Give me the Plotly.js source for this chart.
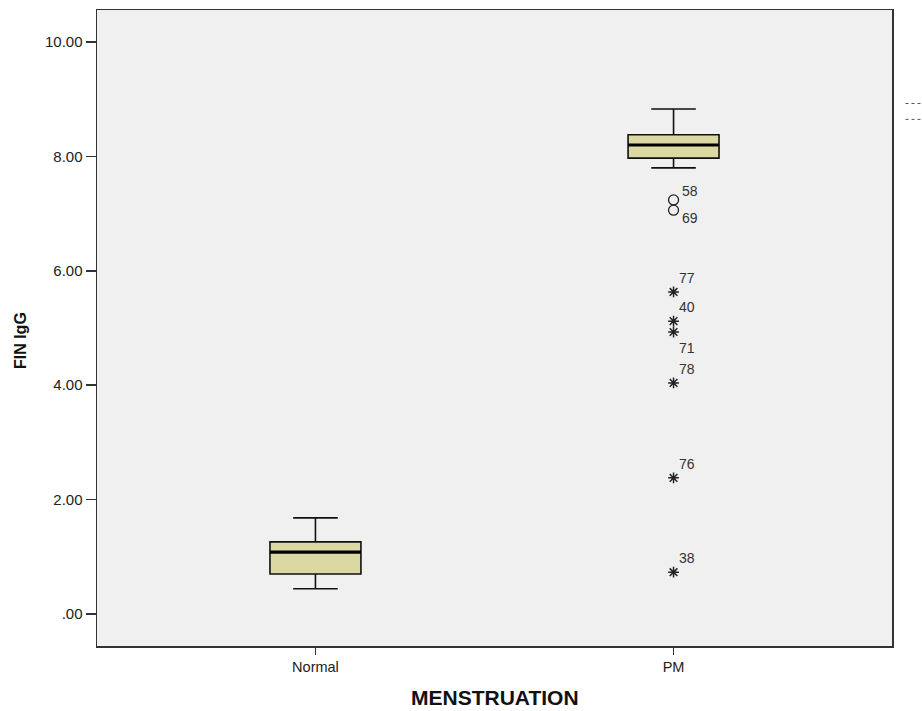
<!DOCTYPE html>
<html>
<head>
<meta charset="utf-8">
<script src="https://cdn.plot.ly/plotly-3.0.1.min.js"></script>
<style>html,body{margin:0;padding:0;background:#fff;}#chart{width:922px;height:711px;}</style>
</head>
<body>
<div id="chart"></div>
<script>
// Categories and box statistics
const categories = ["Normal", "PM"];
const lowerWhisker = [0.44, 7.80];
const q1Values = [0.70, 7.97];
const medianValues = [1.08, 8.20];
const q3Values = [1.26, 8.38];
const upperWhisker = [1.68, 8.83];

// Outliers (circles) in PM group
const outlierCat = ["PM", "PM"];
const outlierVals = [7.24, 7.06];
const outlierIds = ["58", "69"];
const outlierSide = ["above", "below"];

// Extreme values (stars) in PM group
const extremeCat = ["PM", "PM", "PM", "PM", "PM", "PM"];
const extremeVals = [5.63, 5.12, 4.93, 4.04, 2.38, 0.73];
const extremeIds = ["77", "40", "71", "78", "76", "38"];
const extremeSide = ["above", "above", "below", "above", "above", "above"];

// Y tick labels
const yTickVals = [0, 2, 4, 6, 8, 10];
const yTickText = [".00", "2.00", "4.00", "6.00", "8.00", "10.00"];

const xTitle = "MENSTRUATION";
const yTitle = "FIN IgG";

const boxFill = "#dcd8a3";
const font = "Liberation Sans, Arial, sans-serif";

const traces = [
  {
    type: "box",
    x: categories,
    q1: q1Values, median: medianValues, q3: q3Values,
    lowerfence: lowerWhisker, upperfence: upperWhisker,
    boxpoints: false,
    width: 0.254,
    whiskerwidth: 0.49,
    fillcolor: boxFill,
    line: {color: "#111", width: 1.6},
    hoverinfo: "skip",
    showlegend: false
  },
  {
    // thick median line overlay
    type: "box",
    x: categories,
    q1: medianValues, median: medianValues, q3: medianValues,
    lowerfence: medianValues, upperfence: medianValues,
    boxpoints: false,
    width: 0.254,
    whiskerwidth: 0,
    fillcolor: "rgba(0,0,0,0)",
    line: {color: "#000", width: 3.2},
    hoverinfo: "skip",
    showlegend: false
  },
  {
    type: "scatter",
    mode: "markers",
    x: outlierCat, y: outlierVals,
    marker: {symbol: "circle-open", size: 10, color: "#222", line: {width: 1.3, color: "#222"}},
    showlegend: false, hoverinfo: "skip"
  },
  {
    type: "scatter",
    mode: "markers",
    x: extremeCat, y: extremeVals,
    marker: {symbol: "asterisk-open", size: 9, color: "#222", line: {width: 1.5, color: "#222"}},
    showlegend: false, hoverinfo: "skip"
  }
];

function labelAnn(cat, val, id, side, upShift, downShift, xs) {
  return {
    x: cat, y: val, xref: "x", yref: "y",
    text: id, showarrow: false,
    xanchor: "left",
    yanchor: side === "above" ? "bottom" : "top",
    xshift: xs,
    yshift: side === "above" ? upShift : downShift,
    font: {family: font, size: 14, color: "#333"}
  };
}

const annotations = [];
outlierIds.forEach((id, i) => annotations.push(labelAnn(outlierCat[i], outlierVals[i], id, outlierSide[i], -1, 2, 6)));
extremeIds.forEach((id, i) => annotations.push(labelAnn(extremeCat[i], extremeVals[i], id, extremeSide[i], 4, -6, 3)));

annotations.push({
  x: 0.5, y: -0.0802, xref: "paper", yref: "paper",
  text: xTitle, showarrow: false, xanchor: "center", yanchor: "middle",
  font: {family: font, size: 21, color: "#111", weight: "bold"}
});
annotations.push({
  x: -0.0969, y: 0.481, xref: "paper", yref: "paper",
  text: yTitle, showarrow: false, textangle: -90, xanchor: "center", yanchor: "middle",
  font: {family: font, size: 16, color: "#111", weight: "bold"}
});

const layout = {
  width: 922, height: 711,
  margin: {l: 97, r: 30, t: 10, b: 65},
  paper_bgcolor: "#ffffff",
  plot_bgcolor: "#f0f0f0",
  font: {family: font, size: 12, color: "#222"},
  showlegend: false,
  boxmode: "overlay",
  xaxis: {
    type: "category",
    categoryorder: "array", categoryarray: categories,
    range: [-0.61, 1.61],
    showline: true, mirror: true, linecolor: "#333", linewidth: 1.5,
    ticks: "outside", ticklen: 7, tickcolor: "#333", tickwidth: 1.5,
    showgrid: false, zeroline: false,
    tickfont: {family: font, size: 14.5, color: "#222"}
  },
  yaxis: {
    range: [-0.56, 10.56],
    tickvals: yTickVals, ticktext: yTickText,
    showline: true, mirror: true, linecolor: "#333", linewidth: 1.5,
    ticks: "outside", ticklen: 10, tickcolor: "#333", tickwidth: 1.5,
    showgrid: false, zeroline: false,
    tickfont: {family: font, size: 15, color: "#222"}
  },
  annotations: annotations,
  shapes: [
    {type: "line", xref: "paper", yref: "paper", x0: 1.017, x1: 1.036, y0: 0.853, y1: 0.853, line: {color: "#555", width: 1, dash: "dot"}},
    {type: "line", xref: "paper", yref: "paper", x0: 1.017, x1: 1.036, y0: 0.828, y1: 0.828, line: {color: "#555", width: 1, dash: "dot"}}
  ]
};

Plotly.newPlot("chart", traces, layout, {displayModeBar: false, staticPlot: true});
</script>
</body>
</html>
